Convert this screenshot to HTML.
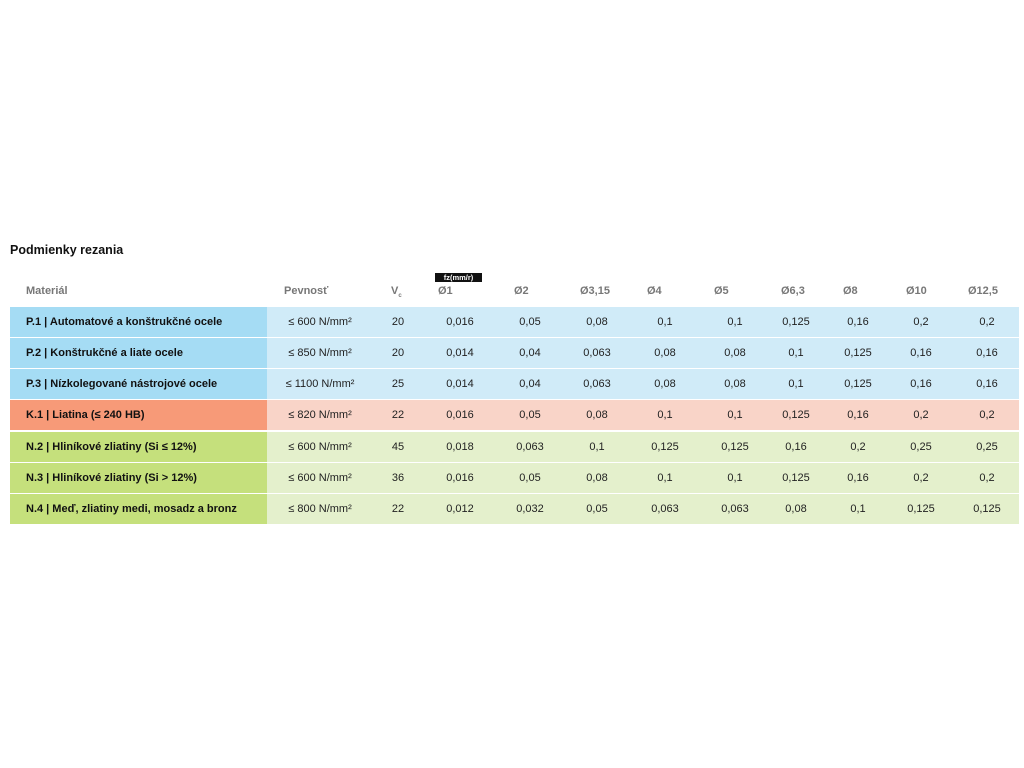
<!DOCTYPE html>
<html><head><meta charset="utf-8"><style>
body{margin:0;width:1024px;height:768px;background:#fff;position:relative;font-family:"Liberation Sans",sans-serif;color:#222;overflow:hidden}
.a{position:absolute;white-space:nowrap}
.t{left:10px;top:243px;font-size:12.5px;font-weight:bold;color:#111}
.h{top:285px;font-size:11px;font-weight:bold;color:#777}
.row{position:absolute;left:10px;width:1009px;height:30px}
.row .d{position:absolute;left:0;top:0;width:257px;height:30px}
.row .l{position:absolute;left:257px;top:0;right:0;height:30px}
.c{position:absolute;top:9px;font-size:11px;color:#222;transform:translateX(-50%)}
.n{position:absolute;left:16px;top:9px;font-size:11px;font-weight:bold;color:#111}
</style></head><body>
<div class="a t">Podmienky rezania</div>
<div class="a h" style="left:26px">Materiál</div>
<div class="a h" style="left:284px">Pevnosť</div>
<div class="a h" style="left:391px">V<sub style="font-size:6px">c</sub></div>
<div class="a" style="left:435px;top:273px;width:47px;height:9px;background:#111;color:#fff;font-size:7.5px;font-weight:bold;line-height:9px;text-align:center">fz(mm/r)</div>
<div class="a h" style="left:438px">Ø1</div>
<div class="a h" style="left:514px">Ø2</div>
<div class="a h" style="left:580px">Ø3,15</div>
<div class="a h" style="left:647px">Ø4</div>
<div class="a h" style="left:714px">Ø5</div>
<div class="a h" style="left:781px">Ø6,3</div>
<div class="a h" style="left:843px">Ø8</div>
<div class="a h" style="left:906px">Ø10</div>
<div class="a h" style="left:968px">Ø12,5</div>
<div id="rows"></div>
<script>
var R=[
["P.1 | Automatové a konštrukčné ocele","≤ 600","20","0,016","0,05","0,08","0,1","0,1","0,125","0,16","0,2","0,2","#a5dcf4","#d0ebf8"],
["P.2 | Konštrukčné a liate ocele","≤ 850","20","0,014","0,04","0,063","0,08","0,08","0,1","0,125","0,16","0,16","#a5dcf4","#d0ebf8"],
["P.3 | Nízkolegované nástrojové ocele","≤ 1100","25","0,014","0,04","0,063","0,08","0,08","0,1","0,125","0,16","0,16","#a5dcf4","#d0ebf8"],
["K.1 | Liatina (≤ 240 HB)","≤ 820","22","0,016","0,05","0,08","0,1","0,1","0,125","0,16","0,2","0,2","#f79a78","#f9d4c8"],
["N.2 | Hliníkové zliatiny (Si ≤ 12%)","≤ 600","45","0,018","0,063","0,1","0,125","0,125","0,16","0,2","0,25","0,25","#c5e07c","#e4f0cc"],
["N.3 | Hliníkové zliatiny (Si > 12%)","≤ 600","36","0,016","0,05","0,08","0,1","0,1","0,125","0,16","0,2","0,2","#c5e07c","#e4f0cc"],
["N.4 | Meď, zliatiny medi, mosadz a bronz","≤ 800","22","0,012","0,032","0,05","0,063","0,063","0,08","0,1","0,125","0,125","#c5e07c","#e4f0cc"]];
var X=[320,398,460,530,597,665,735,796,858,921,987];
var tops=[307,338,369,400,432,463,494];
var h="";
R.forEach(function(r,i){
h+='<div class="row" style="top:'+tops[i]+'px"><div class="d" style="background:'+r[12]+'"></div><div class="l" style="background:'+r[13]+'"></div><div class="n">'+r[0]+'</div>';
h+='<div class="c" style="left:'+(X[0]-10)+'px">'+r[1]+' N/mm²</div>';
for(var j=2;j<12;j++)h+='<div class="c" style="left:'+(X[j-1]-10)+'px">'+r[j]+'</div>';
h+='</div>';});
document.getElementById("rows").innerHTML=h;
</script>
</body></html>
